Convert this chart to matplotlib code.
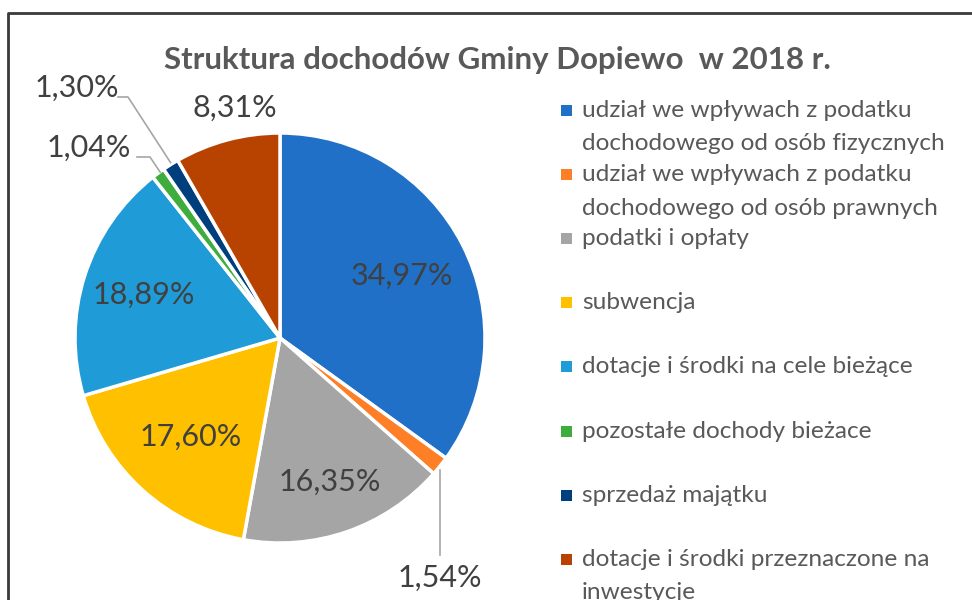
import numpy as np
import matplotlib
matplotlib.use('Agg')
import matplotlib.pyplot as plt
from matplotlib.lines import Line2D

plt.rcParams['font.family'] = ['Lato', 'DejaVu Sans']

# data
title = 'Struktura dochodów Gminy Dopiewo  w 2018 r.'
categories = [
    'udział we wpływach z podatku\ndochodowego od osób fizycznych',
    'udział we wpływach z podatku\ndochodowego od osób prawnych',
    'podatki i opłaty',
    'subwencja',
    'dotacje i środki na cele bieżące',
    'pozostałe dochody bieżace',
    'sprzedaż majątku',
    'dotacje i środki przeznaczone na\ninwestycje',
]
shares = [34.97, 1.54, 16.35, 17.60, 18.89, 1.04, 1.30, 8.31]
colors = ['#1F70C6', '#FF7F27', '#A5A5A5', '#FFC000',
          '#1F9BD7', '#3EAD3E', '#003F7E', '#B84300']

W, H = 972, 600
fig = plt.figure(figsize=(W / 100, H / 100), dpi=100)
ax = fig.add_axes([0, 0, 1, 1])

cx, cy, R = 280, 262, 205
wedges, _ = ax.pie(shares, colors=colors, startangle=90, counterclock=False,
                   center=(cx, cy), radius=R, frame=True,
                   wedgeprops=dict(edgecolor='white', linewidth=2.5))
ax.set_xlim(0, W)
ax.set_ylim(0, H)
ax.set_aspect('equal')
ax.axis('off')

fmt = lambda v: ('%.2f%%' % v).replace('.', ',')
txt_col = '#404040'
lab_size = 22

# inside labels (distance as fraction of radius)
inside = {0: 0.67, 2: 0.74, 3: 0.65, 4: 0.70}
for i, f in inside.items():
    w = wedges[i]
    mid = np.deg2rad((w.theta1 + w.theta2) / 2)
    ax.text(cx + f * R * np.cos(mid), cy + f * R * np.sin(mid), fmt(shares[i]),
            ha='center', va='center', fontsize=lab_size, color=txt_col)

# outside labels with leader lines
def edge_pt(i, f=1.0):
    w = wedges[i]
    mid = np.deg2rad((w.theta1 + w.theta2) / 2)
    return cx + f * R * np.cos(mid), cy + f * R * np.sin(mid)

lead = '#A6A6A6'
x0, y0 = edge_pt(1)
ax.add_line(Line2D([x0, x0], [y0 - 4, 45], color=lead, lw=1.2))
ax.text(x0, 22, fmt(shares[1]), ha='center', va='center', fontsize=lab_size, color=txt_col)

x0, y0 = edge_pt(6)
ax.add_line(Line2D([x0, 128, 118], [y0 + 2, 503, 503], color=lead, lw=1.2))
ax.text(77, 512, fmt(shares[6]), ha='center', va='center', fontsize=lab_size, color=txt_col)

x0, y0 = edge_pt(5)
ax.add_line(Line2D([x0 + 2, 150, 137], [y0 + 1, 443, 443], color=lead, lw=1.2))
ax.text(89, 452, fmt(shares[5]), ha='center', va='center', fontsize=lab_size, color=txt_col)

ax.text(235, 492, fmt(shares[7]), ha='center', va='center', fontsize=lab_size, color=txt_col)

# title
ax.text(497, 540, title, ha='center', va='center', fontsize=22.5, fontweight='bold',
        color='#595959')

# legend
for i, (lab, c) in enumerate(zip(categories, colors)):
    yc = H - (110.5 + 64.1 * i)
    ax.add_patch(plt.Rectangle((561, yc - 5.5), 11, 11, color=c, lw=0))
    for j, line in enumerate(lab.split('\n')):
        ax.text(582, yc - 6.5 - 33.5 * j, line, ha='left', va='baseline',
                fontsize=17.6, color='#595959')

# chart frame
ax.add_line(Line2D([8, 8, W], [0, 587, 587], color='#3A3A3A', lw=2))

fig.savefig('out.png', dpi=100)
